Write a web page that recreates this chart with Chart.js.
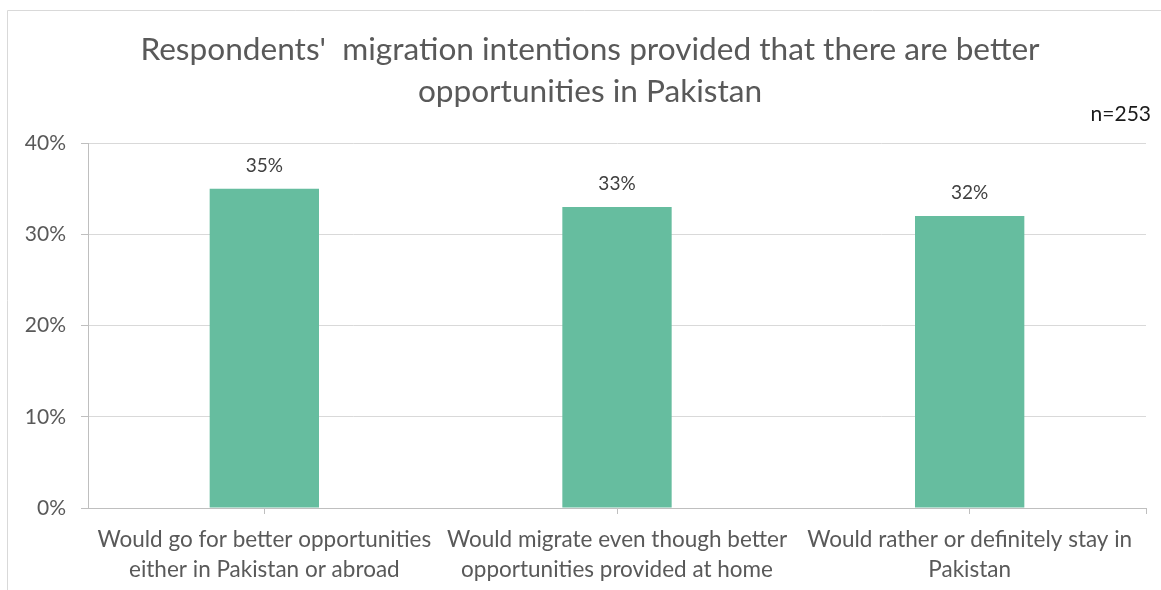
<!DOCTYPE html>
<html>
<head>
<meta charset="utf-8">
<title>Migration intentions</title>
<script src="https://cdn.jsdelivr.net/npm/chart.js@4.4.1/dist/chart.umd.min.js"></script>
<style>
  html, body { margin: 0; padding: 0; background: #fff; }
  #wrap { width: 1161px; height: 590px; position: relative; }
</style>
</head>
<body>
<div id="wrap"><canvas id="intentChart" width="1161" height="590"></canvas></div>
<script>
var categories = [
    ['Would go for better opportunities', 'either in Pakistan or abroad'],
    ['Would migrate even though better', 'opportunities provided at home'],
    ['Would rather or definitely stay in', 'Pakistan']
];
var shares = [35, 33, 32];
var yTicks = [0, 10, 20, 30, 40];
var sampleNote = 'n=253';

var FONT = 'Lato, "Open Sans", sans-serif';

// light frame along the top and left edge, like the exported figure
var framePlugin = {
    id: 'frame',
    afterLayout: function (chart) {
        // keep the title centred a little to the right of the canvas middle
        if (chart.titleBlock) chart.titleBlock.left = 34;
    },
    beforeDraw: function (chart) {
        var c = chart.ctx;
        c.save();
        c.strokeStyle = '#d9d9d9';
        c.lineWidth = 1;
        c.beginPath();
        c.moveTo(7.5, chart.height);
        c.lineTo(7.5, 10.5);
        c.lineTo(chart.width, 10.5);
        c.stroke();
        c.restore();
    }
};

// value labels above bars, the end tick of the x axis, and the sample size note
var extrasPlugin = {
    id: 'extras',
    afterDatasetsDraw: function (chart) {
        var c = chart.ctx;
        var meta = chart.getDatasetMeta(0);
        c.save();
        c.font = '19px ' + FONT;
        c.fillStyle = '#404040';
        c.textAlign = 'center';
        c.textBaseline = 'middle';
        meta.data.forEach(function (bar, i) {
            c.fillText(Math.round(shares[i]) + '%', bar.x, bar.y - 23);
        });

        var area = chart.chartArea;
        c.strokeStyle = '#bfbfbf';
        c.lineWidth = 1;
        c.beginPath();
        c.moveTo(Math.round(area.right) + 0.5, area.bottom);
        c.lineTo(Math.round(area.right) + 0.5, area.bottom + 6);
        c.stroke();

        c.font = '21px ' + FONT;
        c.fillStyle = '#1a1a1a';
        c.textAlign = 'right';
        c.fillText(sampleNote, 1151, 114);
        c.restore();
    }
};

var ctx = document.getElementById('intentChart').getContext('2d');
var intentChart = new Chart(ctx, {
    type: 'bar',
    data: {
        labels: categories,
        datasets: [{
            data: shares,
            backgroundColor: '#66bd9f',
            categoryPercentage: 1.0,
            barPercentage: 0.31
        }]
    },
    options: {
        responsive: false,
        animation: false,
        layout: { padding: { top: 10, right: 15, left: 0, bottom: 0 } },
        plugins: {
            legend: { display: false },
            tooltip: { enabled: false },
            title: {
                display: true,
                text: ["Respondents'  migration intentions provided that there are better", 'opportunities in Pakistan'],
                color: '#595959',
                font: { family: FONT, size: 31.6, weight: 'normal', lineHeight: 1.33 },
                padding: { top: 19, bottom: 30 }
            }
        },
        scales: {
            y: {
                min: 0,
                max: 40,
                afterBuildTicks: function (scale) {
                    scale.ticks = yTicks.map(function (v) { return { value: v }; });
                },
                afterFit: function (scale) { scale.width = 88; },
                border: { display: true, color: '#bfbfbf' },
                grid: {
                    color: function (c) { return c.tick && c.tick.value === 0 ? '#bfbfbf' : '#d9d9d9'; },
                    tickColor: '#bfbfbf',
                    tickLength: 7
                },
                ticks: {
                    padding: 15,
                    color: '#595959',
                    font: { family: FONT, size: 21 },
                    callback: function (v) { return v + '%'; }
                }
            },
            x: {
                afterFit: function (scale) { scale.height = 82; },
                border: { display: true, color: '#bfbfbf' },
                grid: {
                    offset: false,
                    drawOnChartArea: false,
                    color: '#bfbfbf',
                    tickLength: 6
                },
                ticks: {
                    padding: 11,
                    maxRotation: 0,
                    autoSkip: false,
                    color: '#595959',
                    font: { family: FONT, size: 22.5, lineHeight: 1.33 }
                }
            }
        }
    },
    plugins: [framePlugin, extrasPlugin]
});
</script>
</body>
</html>
